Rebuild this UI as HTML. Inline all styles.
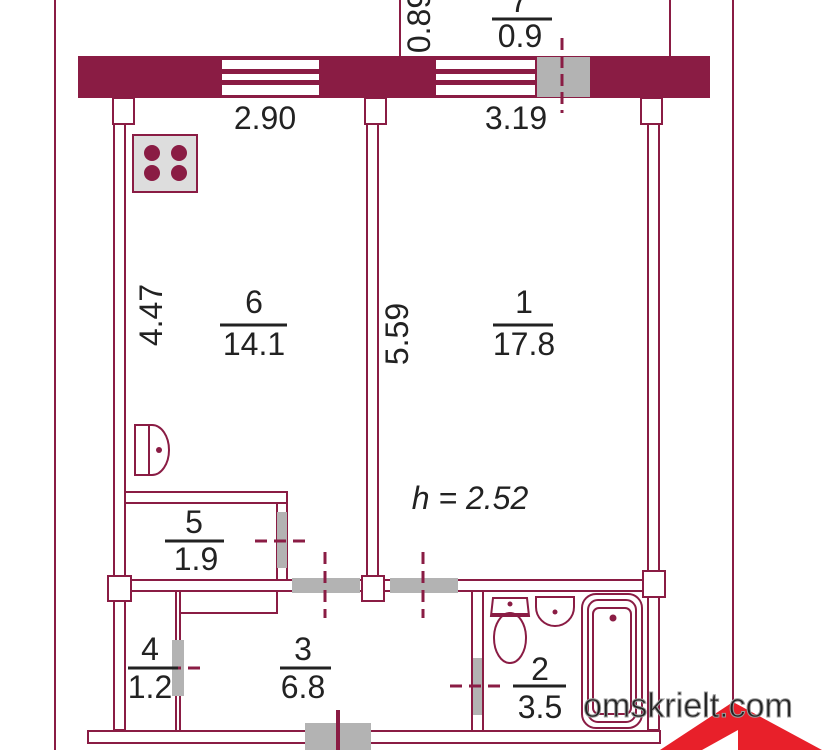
<!DOCTYPE html>
<html><head><meta charset="utf-8"><style>
html,body{margin:0;padding:0;background:#fff;width:826px;height:750px;overflow:hidden}
svg{display:block}
text{font-family:"Liberation Sans",sans-serif;fill:#222}
</style></head><body>
<svg width="826" height="750" viewBox="0 0 826 750" xmlns="http://www.w3.org/2000/svg">
<g fill="none" stroke="#8a1c44" stroke-width="2">
  <line x1="55" y1="0" x2="55" y2="750"/>
  <line x1="733" y1="0" x2="733" y2="700"/>
  <line x1="400" y1="0" x2="400" y2="56"/>
  <line x1="670" y1="0" x2="670" y2="56"/>
</g>
<rect x="78" y="56" width="632" height="42" fill="#8a1c44"/>
<g fill="#fff" stroke="#8a1c44" stroke-width="2">
  <rect x="221" y="59" width="99" height="11"/><rect x="221" y="73" width="99" height="8"/><rect x="221" y="84" width="99" height="12"/>
  <rect x="435" y="59" width="101" height="11"/><rect x="435" y="73" width="101" height="8"/><rect x="435" y="84" width="101" height="12"/>
</g>
<rect x="537" y="57" width="53" height="40" fill="#b3b3b3"/>
<line x1="562" y1="38" x2="562" y2="113" stroke="#8a1c44" stroke-width="3" stroke-dasharray="12,6"/>

<g fill="#fff" stroke="#8a1c44" stroke-width="2">
  <rect x="114" y="124" width="11" height="606"/>
  <rect x="367" y="124" width="11" height="452"/>
  <rect x="648" y="124" width="11" height="606"/>
  <rect x="120" y="580" width="530" height="11"/>
  <rect x="88" y="731" width="572" height="12"/>
  <rect x="113" y="98" width="21" height="26"/>
  <rect x="365" y="98" width="21" height="26"/>
  <rect x="641" y="98" width="21" height="26"/>
  <rect x="108" y="576" width="23" height="25"/>
  <rect x="362" y="576" width="22" height="25"/>
  <rect x="643" y="571" width="22" height="26"/>
  <rect x="125" y="492" width="162" height="11"/>
  <rect x="277" y="503" width="10" height="77"/>
  <rect x="180" y="591" width="97" height="22"/>
  <rect x="176" y="591" width="4" height="140"/>
  <rect x="472" y="591" width="11" height="140"/>
  <rect x="133" y="135" width="64" height="57" fill="#ddd"/>
  <rect x="582" y="594" width="60" height="134" rx="14"/>
  <rect x="588" y="600" width="48" height="122" rx="10"/>
  <rect x="593" y="608" width="38" height="106" rx="6"/>
  <path d="M493 598 h34 l2 18 h-38 z"/>
  <ellipse cx="510" cy="638" rx="16" ry="25"/>
  <path d="M536 597 h38 v10 a19 19 0 0 1 -38 0 z"/>
  <path d="M135 425 h17 a17 25 0 0 1 0 50 h-17 z"/>
  <line x1="149" y1="425" x2="149" y2="475"/>
</g>
<rect x="492" y="613" width="36" height="4" fill="#8a1c44"/>
<g fill="#8a1c44">
  <circle cx="152" cy="153" r="8"/><circle cx="179" cy="153" r="8"/>
  <circle cx="152" cy="173" r="8"/><circle cx="179" cy="173" r="8"/>
  <circle cx="510" cy="604" r="2.5"/><circle cx="555" cy="612" r="2.5"/><circle cx="613" cy="618" r="3.5"/>
  <circle cx="159" cy="450" r="3"/>
</g>
<g fill="#b3b3b3">
  <rect x="277" y="512" width="10" height="56"/>
  <rect x="292" y="578" width="68" height="15"/>
  <rect x="390" y="578" width="68" height="15"/>
  <rect x="172" y="640" width="12" height="56"/>
  <rect x="473" y="658" width="9" height="57"/>
  <rect x="305" y="723" width="66" height="27"/>
</g>
<g stroke="#8a1c44" stroke-width="3" stroke-dasharray="12,7">
  <line x1="255" y1="541" x2="310" y2="541"/>
  <line x1="325" y1="552" x2="325" y2="618"/>
  <line x1="423" y1="552" x2="423" y2="618"/>
  <line x1="150" y1="668" x2="205" y2="668"/>
  <line x1="450" y1="686" x2="505" y2="686"/>
</g>
<line x1="338" y1="710" x2="338" y2="750" stroke="#8a1c44" stroke-width="4"/>

<g font-size="32" text-anchor="middle">
  <text x="265" y="129">2.90</text>
  <text x="516" y="129">3.19</text>
  <text x="254" y="313">6</text><text x="254" y="355">14.1</text>
  <text x="524" y="313">1</text><text x="524" y="355">17.8</text>
  <text x="194" y="533">5</text><text x="196" y="570">1.9</text>
  <text x="150" y="660">4</text><text x="150" y="698">1.2</text>
  <text x="303" y="660">3</text><text x="303" y="698">6.8</text>
  <text x="540" y="680">2</text><text x="540" y="718">3.5</text>
  <text x="520" y="47">0.9</text>
  <text x="519" y="12">7</text>
  <text x="470" y="509" font-style="italic">h = 2.52</text>
  <text transform="translate(162,315) rotate(-90)">4.47</text>
  <text transform="translate(408,334) rotate(-90)">5.59</text>
  <text transform="translate(430,22) rotate(-90)">0.89</text>
</g>
<g stroke="#222" stroke-width="3">
  <line x1="220" y1="325" x2="287" y2="325"/>
  <line x1="493" y1="325" x2="553" y2="325"/>
  <line x1="165" y1="541" x2="224" y2="541"/>
  <line x1="128" y1="668" x2="178" y2="668"/>
  <line x1="280" y1="668" x2="331" y2="668"/>
  <line x1="513" y1="686" x2="566" y2="686"/>
  <line x1="492" y1="19" x2="552" y2="19"/>
</g>
<polygon points="660,750 733,702 822,750" fill="#e8202a"/>
<polygon points="702,750 738,730 738,750" fill="#fff"/>
<text x="688" y="717" font-size="34" text-anchor="middle" fill="#fff" stroke="#9a9a9a" stroke-width="1">omskrielt.com</text>
</svg>
</body></html>
